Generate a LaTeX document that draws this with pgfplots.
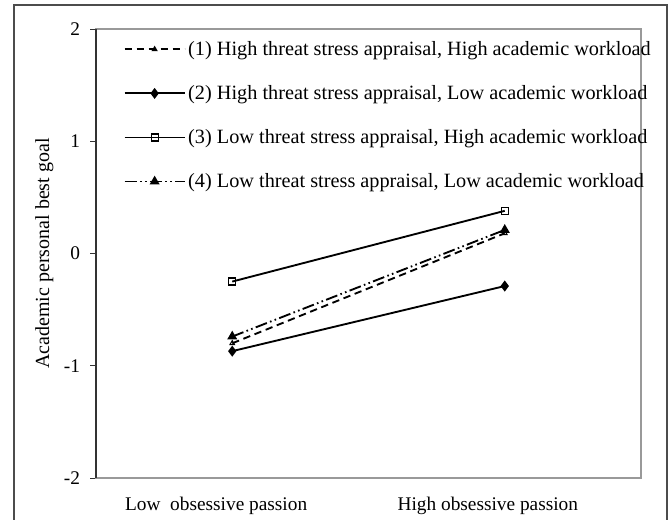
\documentclass[border=0pt]{standalone}
\usepackage{pgfplots}
\pgfplotsset{compat=1.18}
\usepackage{fontspec}
\setmainfont{Liberation Serif}
\begin{document}
\begin{tikzpicture}
\path (0pt,0pt) rectangle (501.75pt,390pt);
\draw[line width=0.9pt, black!70] (10.5pt,0pt) -- (10.5pt,386.25pt) -- (500.25pt,386.25pt) -- (500.25pt,0pt);
\begin{axis}[
  at={(72pt,31.5pt)}, anchor=south west,
  scale only axis, width=408.75pt, height=336.75pt,
  xmin=0.5, xmax=2.5, ymin=-2, ymax=2,
  xtick={0.941,1.938},
  xticklabels={Low\ \ obsessive passion, High obsessive passion},
  x tick label style={yshift=-6pt},
  y tick label style={xshift=-4pt},
  ytick={-2,-1,0,1,2},
  yticklabels={-2,-1,0,1,2},
  ytick pos=left,
  tick align=outside,
  major tick length=4.5pt,
  xtick style={draw=none},
  ytick style={black!80, line width=0.6pt},
  axis line style={black!40, line width=0.8pt},
  tick label style={font=\fontsize{14.5}{17}\selectfont},
  ylabel={Academic personal best goal},
  ylabel style={font=\fontsize{15}{18}\selectfont, yshift=1pt},
  legend cell align=left,
  legend style={draw=none, fill=none, at={(rel axis cs:0.043,0.985)}, anchor=north west,
    font=\fontsize{15.2}{18}\selectfont, row sep=17pt},
  legend image code/.code={\draw[mark repeat=2,mark phase=2,#1] plot coordinates {(0pt,0pt) (22.5pt,0pt) (45pt,0pt)};},
  every axis plot/.append style={line width=1.4pt, black},
  clip=false,
]
\addplot[dash pattern=on 5.5pt off 3.5pt, mark=triangle, mark size=2pt, mark options={solid, fill=white, line width=0.8pt}]
  coordinates {(1,-0.80) (2,0.18)};
\addlegendentry{(1) High threat stress appraisal, High academic workload}
\addplot[solid, mark=diamond*, mark size=3pt, mark options={solid}]
  coordinates {(1,-0.87) (2,-0.29)};
\addlegendentry{(2) High threat stress appraisal, Low academic workload}
\addplot[solid, mark=square, mark size=2.6pt, mark options={solid, fill=white, line width=0.9pt}]
  coordinates {(1,-0.25) (2,0.38)};
\addlegendentry{(3) Low threat stress appraisal, High academic workload}
\addplot[dash pattern=on 9pt off 2.5pt on 1.2pt off 2.5pt on 1.2pt off 2.5pt, mark=triangle*, mark size=3pt, mark options={solid}]
  coordinates {(1,-0.74) (2,0.21)};
\addlegendentry{(4) Low threat stress appraisal, Low academic workload}
\draw[black!80, line width=0.8pt] (rel axis cs:0,0) -- (rel axis cs:0,1);
\end{axis}
\end{tikzpicture}
\end{document}
